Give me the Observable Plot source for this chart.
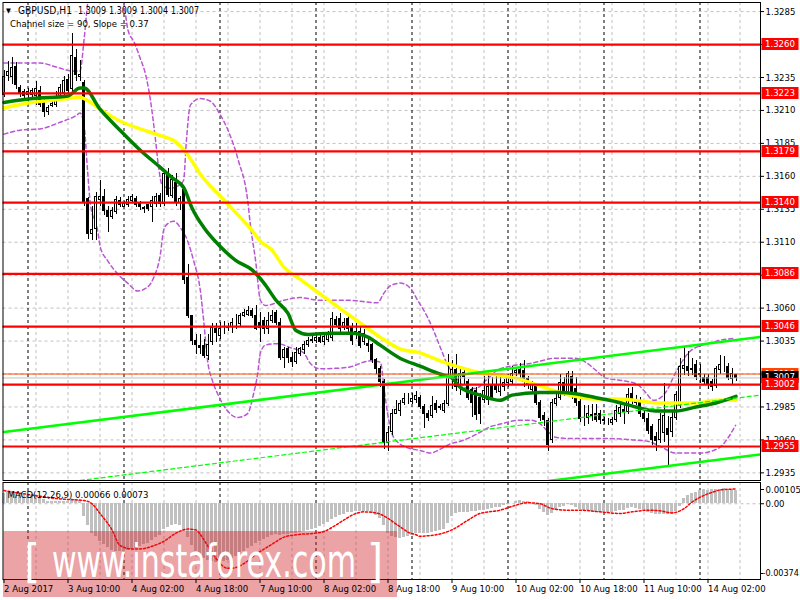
<!DOCTYPE html>
<html><head><meta charset="utf-8">
<script src="https://cdn.jsdelivr.net/npm/d3@7"></script>
<script src="https://cdn.jsdelivr.net/npm/@observablehq/plot@0.6"></script>
<style>
body{margin:0;background:#fff;}
#wrap{position:relative;width:800px;height:600px;overflow:hidden;background:#fff;}
#main{position:absolute;left:0;top:0;}
#macd{position:absolute;left:0;top:480px;}
svg text{font-family:"DejaVu Sans Condensed","DejaVu Sans",sans-serif;}
</style></head>
<body><div id="wrap"><div id="main"></div><div id="macd"></div></div>
<script>
// ---------- DATA ----------
const symbolName = "GBPUSD,H1";
const lastBarOHLC = ["1.3009", "1.3009", "1.3004", "1.3007"];
const channelTitle = "Channel size = 90, Slope = 0.37";
const macdTitle = "MACD(12,26,9) 0.00066 0.00073";
const watermarkText = "www.instaforex.com";

const opens = [1.3222,1.3236,1.3235,1.3243,1.3227,1.3224,1.3222,1.3222,1.3221,1.3225,1.3217,1.3209,1.3213,1.3214,1.3219,1.3223,1.3233,1.3226,1.3250,1.3235,
1.3231,1.3143,1.3116,1.3120,1.3142,1.3144,1.3134,1.3129,1.3133,1.3141,1.3137,1.3138,1.3141,1.3143,1.3139,1.3136,1.3138,1.3137,1.3139,1.3145,
1.3139,1.3160,1.3145,1.3155,1.3140,1.3150,1.3083,1.3054,1.3035,1.3031,1.3031,1.3024,1.3034,1.3044,1.3039,1.3045,1.3045,1.3046,1.3049,1.3048,
1.3054,1.3055,1.3058,1.3054,1.3049,1.3050,1.3044,1.3050,1.3056,1.3049,1.3022,1.3029,1.3022,1.3019,1.3025,1.3028,1.3032,1.3035,1.3035,1.3037,
1.3034,1.3036,1.3037,1.3051,1.3052,1.3045,1.3052,1.3045,1.3042,1.3042,1.3034,1.3033,1.3032,1.3021,1.3014,1.3004,1.2958,1.2966,1.2980,1.2982,
1.2988,1.2990,1.2989,1.2990,1.2992,1.2985,1.2980,1.2978,1.2987,1.2985,1.2982,1.2987,1.3006,1.3013,1.3002,1.3011,1.3004,1.2998,1.2997,1.2992,
1.2990,1.2990,1.3001,1.3002,1.2996,1.3000,1.3003,1.3004,1.3011,1.3013,1.3012,1.3006,1.2998,1.3001,1.2988,1.2978,1.2974,1.2960,1.2987,1.2992,
1.3003,1.2996,1.3008,1.2999,1.2989,1.2978,1.2977,1.2978,1.2980,1.2980,1.2975,1.2974,1.2973,1.2975,1.2980,1.2983,1.2981,1.2995,1.2990,1.2988,
1.2980,1.2976,1.2970,1.2962,1.2960,1.2965,1.2968,1.2966,1.2977,1.2986,1.3014,1.3015,1.3014,1.3017,1.3010,1.3007,1.3007,1.3004,1.3001,1.3013,
1.3015,1.3015,1.3006,1.3009];
const highs = [1.3240,1.3247,1.3250,1.3246,1.3229,1.3226,1.3227,1.3227,1.3232,1.3228,1.3219,1.3214,1.3218,1.3224,1.3230,1.3236,1.3237,1.3268,1.3256,1.3248,
1.3233,1.3144,1.3137,1.3148,1.3157,1.3150,1.3137,1.3136,1.3145,1.3144,1.3141,1.3145,1.3146,1.3145,1.3141,1.3137,1.3139,1.3145,1.3147,1.3147,
1.3164,1.3166,1.3161,1.3162,1.3145,1.3152,1.3093,1.3054,1.3040,1.3040,1.3036,1.3040,1.3048,1.3048,1.3049,1.3050,1.3048,1.3052,1.3055,1.3056,
1.3059,1.3061,1.3060,1.3062,1.3057,1.3053,1.3057,1.3058,1.3058,1.3052,1.3030,1.3030,1.3026,1.3030,1.3030,1.3035,1.3038,1.3039,1.3039,1.3039,
1.3040,1.3042,1.3057,1.3054,1.3056,1.3052,1.3054,1.3048,1.3048,1.3046,1.3044,1.3036,1.3033,1.3022,1.3016,1.3006,1.2970,1.2983,1.2990,1.2990,
1.2995,1.2995,1.2995,1.2997,1.2994,1.2987,1.2982,1.2993,1.2990,1.2987,1.2990,1.3025,1.3020,1.3025,1.3015,1.3013,1.3006,1.3000,1.3000,1.2995,
1.3008,1.3012,1.3007,1.3010,1.3008,1.3006,1.3010,1.3016,1.3014,1.3018,1.3020,1.3008,1.3004,1.3003,1.2990,1.2981,1.2976,1.2991,1.2995,1.3010,
1.3007,1.3012,1.3012,1.3007,1.2991,1.2986,1.2986,1.2987,1.2987,1.2982,1.2977,1.2976,1.2977,1.2986,1.2988,1.2986,1.2999,1.3000,1.2994,1.2992,
1.2983,1.2980,1.2972,1.2966,1.2980,1.3003,1.2978,1.2981,1.2997,1.3022,1.3031,1.3027,1.3022,1.3020,1.3017,1.3010,1.3010,1.3006,1.3016,1.3024,
1.3023,1.3018,1.3014,1.3009];
const lows = [1.3220,1.3232,1.3230,1.3226,1.3220,1.3218,1.3214,1.3219,1.3214,1.3212,1.3205,1.3206,1.3212,1.3212,1.3218,1.3219,1.3222,1.3223,1.3232,1.3232,
1.3137,1.3112,1.3111,1.3111,1.3137,1.3130,1.3117,1.3127,1.3131,1.3136,1.3136,1.3136,1.3140,1.3136,1.3134,1.3132,1.3133,1.3125,1.3136,1.3136,
1.3137,1.3144,1.3143,1.3137,1.3134,1.3078,1.3052,1.3032,1.3025,1.3025,1.3022,1.3020,1.3032,1.3034,1.3036,1.3040,1.3042,1.3041,1.3044,1.3046,
1.3053,1.3054,1.3052,1.3043,1.3034,1.3040,1.3040,1.3048,1.3047,1.3020,1.3014,1.3018,1.3015,1.3017,1.3023,1.3025,1.3030,1.3033,1.3033,1.3033,
1.3032,1.3034,1.3035,1.3045,1.3040,1.3043,1.3041,1.3032,1.3036,1.3029,1.3032,1.3026,1.3018,1.3010,1.3000,1.2953,1.2951,1.2963,1.2979,1.2978,
1.2986,1.2987,1.2987,1.2988,1.2983,1.2969,1.2974,1.2976,1.2980,1.2982,1.2980,1.2985,1.2998,1.2997,1.2994,1.3001,1.2990,1.2977,1.2975,1.2972,
1.2988,1.2986,1.2990,1.2995,1.2993,1.2997,1.3000,1.3002,1.3008,1.3005,1.3000,1.2998,1.2995,1.2986,1.2974,1.2970,1.2951,1.2957,1.2985,1.2990,
1.2993,1.2993,1.2991,1.2985,1.2973,1.2970,1.2972,1.2974,1.2973,1.2972,1.2972,1.2971,1.2971,1.2973,1.2977,1.2972,1.2979,1.2987,1.2986,1.2977,
1.2973,1.2964,1.2956,1.2951,1.2957,1.2958,1.2940,1.2962,1.2975,1.2984,1.3009,1.3008,1.3009,1.3005,1.3003,1.3001,1.2998,1.2997,1.2999,1.3010,
1.3011,1.3005,1.3002,1.3004];
const closes = [1.3235,1.3239,1.3242,1.3229,1.3223,1.3221,1.3224,1.3225,1.3226,1.3214,1.3209,1.3212,1.3215,1.3219,1.3227,1.3232,1.3225,1.3251,1.3237,1.3237,
1.3140,1.3116,1.3119,1.3144,1.3144,1.3134,1.3129,1.3134,1.3142,1.3138,1.3139,1.3142,1.3144,1.3138,1.3137,1.3135,1.3135,1.3141,1.3144,1.3139,
1.3162,1.3146,1.3157,1.3140,1.3143,1.3081,1.3054,1.3035,1.3032,1.3030,1.3024,1.3032,1.3045,1.3041,1.3044,1.3045,1.3046,1.3049,1.3049,1.3054,
1.3056,1.3058,1.3054,1.3044,1.3045,1.3044,1.3050,1.3054,1.3049,1.3022,1.3028,1.3022,1.3019,1.3026,1.3029,1.3032,1.3035,1.3036,1.3037,1.3034,
1.3038,1.3040,1.3052,1.3047,1.3044,1.3049,1.3044,1.3035,1.3040,1.3031,1.3040,1.3031,1.3021,1.3014,1.3004,1.2958,1.2965,1.2980,1.2983,1.2987,
1.2991,1.2990,1.2991,1.2993,1.2985,1.2980,1.2977,1.2986,1.2983,1.2984,1.2987,1.3007,1.3013,1.3000,1.3010,1.3008,1.2992,1.2988,1.2979,1.2980,
1.2997,1.3000,1.2992,1.2998,1.3002,1.3003,1.3007,1.3010,1.3012,1.3010,1.3004,1.3002,1.3002,1.2988,1.2977,1.2975,1.2956,1.2988,1.2991,1.3003,
1.2996,1.3010,1.2995,1.2988,1.2976,1.2978,1.2980,1.2979,1.2975,1.2975,1.2974,1.2974,1.2975,1.2982,1.2984,1.2981,1.2994,1.2990,1.2988,1.2980,
1.2976,1.2967,1.2960,1.2959,1.2975,1.2978,1.2964,1.2977,1.2994,1.3015,1.3016,1.3012,1.3013,1.3008,1.3009,1.3004,1.3002,1.3000,1.3014,1.3017,
1.3015,1.3007,1.3010,1.3007];

// moving averages: [bar, price]
const yellowMA = [[0,1.3212],[7,1.3216],[16,1.3219],[19,1.3220],[20,1.3219],[24,1.3211],[29,1.3202],[34,1.3196],[39,1.3191],[43,1.3186],[46,1.3176],[49,1.3162],[55,1.3142],[59,1.3129],[62,1.3119],[64,1.3111],[67,1.3104],[70,1.3091],[74,1.3082],[78,1.3073],[83,1.3062],[88,1.3051],[94,1.3038],[99,1.3029],[104,1.3026],[109,1.3020],[114,1.3015],[119,1.3011],[124,1.3009],[129,1.3006],[134,1.3001],[139,1.2996],[143,1.2993],[148,1.2991],[153,1.2991],[158,1.2990],[163,1.2988],[168,1.2988],[173,1.2988],[178,1.2990],[183,1.2990]];
const greenMA = [[0,1.3216],[7,1.3219],[16,1.3221],[19,1.3227],[20,1.3227],[24,1.3211],[29,1.3195],[34,1.3180],[39,1.3167],[42,1.3159],[45,1.3151],[47,1.3136],[50,1.3121],[54,1.3107],[58,1.3096],[62,1.3089],[65,1.3079],[68,1.3066],[71,1.3056],[73,1.3043],[76,1.3040],[82,1.3041],[87,1.3041],[91,1.3038],[94,1.3032],[99,1.3022],[104,1.3016],[109,1.3010],[112,1.3007],[114,1.3000],[119,1.2994],[124,1.2990],[127,1.2994],[134,1.2996],[139,1.2996],[143,1.2995],[148,1.2992],[153,1.2989],[158,1.2985],[163,1.2982],[168,1.2982],[173,1.2985],[178,1.2988],[183,1.2993]];

// envelope bands (purple dashed): [bar, price]
const bandUpper = [[0,1.3246],[4,1.3246],[9,1.3246],[13,1.3243],[17,1.3240],[19,1.3240],[20,1.3263],[21,1.3293],[24,1.3320],[28,1.3305],[30,1.3290],[31,1.3271],[32.5,1.3262],[34,1.3250],[35.5,1.3236],[36.6,1.3218],[37.9,1.3187],[38.6,1.3168],[39.6,1.3153],[41.6,1.3151],[43.6,1.3153],[44.9,1.3157],[45.6,1.3187],[46.6,1.3214],[49,1.3219],[51.6,1.3217],[54,1.3207],[56,1.3195],[58.6,1.3172],[60.9,1.3142],[61.6,1.3123],[62.9,1.3096],[64.1,1.3066],[65.4,1.3062],[70,1.3066],[74,1.3068],[79,1.3066],[86,1.3066],[93.4,1.3064],[94.9,1.3071],[96.6,1.3077],[99.1,1.3079],[101.6,1.3075],[103.4,1.3066],[105.9,1.3053],[107.4,1.3043],[109.1,1.3030],[110.9,1.3017],[112.4,1.3010],[114.1,1.3003],[115.9,1.2999],[117.9,1.2999],[120.4,1.3005],[123.4,1.3013],[126.6,1.3016],[131.6,1.3018],[137.9,1.3022],[142.9,1.3022],[145.4,1.3019],[147.9,1.3013],[150.4,1.3007],[154.6,1.3005],[158.4,1.3002],[160.4,1.2996],[162.4,1.2990],[165.4,1.2996],[167.9,1.3011],[171.1,1.3026],[174.6,1.3032],[177.1,1.3034],[179.6,1.3036],[182.9,1.3037]];
const bandLower = [[0,1.3192],[4,1.3195],[9,1.3196],[14,1.3201],[18,1.3206],[19,1.3208],[20,1.3199],[20.9,1.3164],[21.6,1.3139],[23.4,1.3119],[24.1,1.3106],[25.9,1.3096],[28.4,1.3086],[30.9,1.3079],[33.4,1.3073],[35.9,1.3076],[37.4,1.3083],[39.1,1.3101],[39.9,1.3119],[40.9,1.3124],[42.4,1.3126],[44.1,1.3121],[45.9,1.3111],[47.4,1.3096],[49.1,1.3073],[49.9,1.3051],[50.9,1.3020],[52.1,1.3005],[53.4,1.2995],[55.9,1.2982],[58.4,1.2977],[60.9,1.2980],[62.4,1.2995],[63.4,1.3010],[64.1,1.3026],[65.4,1.3032],[68.4,1.3033],[71.6,1.3030],[74.9,1.3026],[76.6,1.3018],[79.1,1.3014],[85.9,1.3015],[91.6,1.3020],[94.1,1.3019],[95.1,1.2997],[95.9,1.2980],[97.4,1.2962],[100.9,1.2954],[104.1,1.2952],[106.6,1.2950],[109.1,1.2953],[111.6,1.2957],[114.1,1.2959],[116.6,1.2962],[119.1,1.2966],[121.6,1.2970],[124.1,1.2972],[126.6,1.2974],[129.1,1.2975],[131.6,1.2975],[134.1,1.2972],[136.1,1.2966],[137.9,1.2962],[141.6,1.2961],[146.6,1.2961],[151.6,1.2961],[157.1,1.2960],[160.9,1.2959],[164.1,1.2955],[167.9,1.2950],[171.6,1.2950],[174.1,1.2950],[177.4,1.2952],[179.6,1.2956],[181.1,1.2962],[182.9,1.2971]];

// regression channel (bright green): [bar, price]
const channelUpper = [[0,1.2966],[189,1.3038]];
const channelMiddle = [[0,1.2922],[189,1.2994]];
const channelLower = [[0,1.2877],[189,1.2949]];

const levels = [1.3260,1.3223,1.3179,1.3140,1.3086,1.3046,1.3002,1.2955];
const askPrice = 1.3010;
const bidPrice = 1.3007;
const priceTicks = [1.2935,1.2960,1.2985,1.3010,1.3035,1.3060,1.3085,1.3110,1.3135,1.3160,1.3185,1.3210,1.3235,1.3260,1.3285];

const xTickBars = [0,16,32,48,64,80,96,112,128,144,160,176];
const xTickLabels = ["2 Aug 2017","3 Aug 10:00","4 Aug 02:00","4 Aug 18:00","7 Aug 10:00","8 Aug 02:00","8 Aug 18:00","9 Aug 10:00","10 Aug 02:00","10 Aug 18:00","11 Aug 10:00","14 Aug 02:00"];
const daySepBars = [6,30,54,78,102,126,150,174];
const gridBars = d3.range(8, 189, 8);

// MACD main (histogram) in units of 1e-5
const macdMainE5 = [52,55,56,55,48,45,42,39,35,29, 19,13,10,10,11,13,13,19,19,16,
-65,-105,-145,-161,-185,-202,-218,-229,-234,-235, -234,-231,-226,-219,-213,-203,-194,-181,-169,-158,
-129,-116,-105,-100,-105,-137,-169,-206,-234,-255, -271,-282,-287,-290,-290,-287,-281,-271,-261,-250,
-235,-223,-210,-197,-187,-177,-169,-158,-152,-155, -153,-150,-148,-145,-142,-139,-134,-129,-121,-113,
-103,-94,-77,-68,-58,-52,-44,-42,-39,-39, -37,-40,-48,-58,-73,-105,-145,-161,-169,-171,
-169,-161,-155,-148,-145,-145,-145,-140,-137,-132, -126,-97,-65,-48,-45,-42,-42,-40,-39,-35,
-32,-27,-23,-19,-16,-11,-5,3,11,15, 13,11,3,-10,-29,-45,-58,-48,-32,-19,
-13,-6,-10,-16,-29,-35,-35,-39,-42,-44, -45,-45,-45,-40,-35,-32,-24,-19,-21,-27,
-34,-42,-50,-53,-52,-53,-55,-52,-40,-13, 24,40,52,58,65,68,65,68,69,71,
73,69,68,66];
// MACD signal (red dotted) [bar, value 1e-5]
const macdSignalE5 = [[0,65],[8,40],[14,24],[20,16],[22,0],[24,-48],[27,-129],[29,-206],[32,-223],[34,-223],[37,-210],[40,-185],[43,-145],[46,-125],[48,-129],[49,-150],[51,-210],[53,-270],[56,-319],[58,-315],[60,-295],[63,-250],[67,-200],[70,-165],[73,-153],[78,-145],[80,-137],[83,-105],[85,-80],[88,-48],[90,-40],[93,-45],[96,-72],[98,-100],[99,-113],[101,-140],[103,-153],[104,-161],[106,-158],[108,-153],[112,-129],[116,-81],[119,-48],[124,-32],[127,-13],[131,5],[134,0],[137,-24],[141,-32],[144,-32],[149,-40],[154,-48],[157,-40],[161,-32],[164,-35],[167,-45],[170,-24],[172,8],[174,32],[177,56],[179,68],[183,73]];
const macdTicks = [0.00105, 0, -0.00374];

// ---------- BUILD ----------
const FONT = '"DejaVu Sans Condensed","DejaVu Sans",sans-serif';
const GRID = "#c0c0c0";
const bars = opens.map((o, i) => ({i, o, h: highs[i], l: lows[i], c: closes[i]}));
const toRows = a => a.map(([i, p]) => ({i, p}));
const xDomain = [-0.25, 189.125];
const fmt4 = d3.format(".4f");

function priceBoxes(values, fill, color) {
  return (index, scales, ch, dim) => {
    const g = d3.create("svg:g").attr("font-size", 9.5).attr("font-family", FONT).attr("text-anchor", "start");
    const x0 = dim.width - dim.marginRight + 1.5;
    for (const v of values) {
      const y = Math.round(scales.y(v));
      g.append("rect").attr("x", x0).attr("y", y - 6).attr("width", 37).attr("height", 12).attr("fill", fill);
      g.append("text").attr("x", x0 + 3.5).attr("y", y).attr("dy", "0.36em").attr("fill", color).text(fmt4(v));
    }
    return g.node();
  };
}

const header = () => {
  const g = d3.create("svg:g").attr("font-family", FONT).attr("text-anchor", "start").attr("fill", "#000");
  g.append("text").attr("x", 6).attr("y", 10.5).attr("dy", "0.35em").attr("font-size", 7).text("\u25BC");
  g.append("text").attr("x", 18).attr("y", 10.5).attr("dy", "0.35em").attr("font-size", 11)
    .attr("textLength", 54).attr("lengthAdjust", "spacingAndGlyphs").text(symbolName);
  lastBarOHLC.forEach((s, k) => {
    g.append("text").attr("x", 78 + k * 31).attr("y", 10.5).attr("dy", "0.35em").attr("font-size", 11)
      .attr("textLength", 28).attr("lengthAdjust", "spacingAndGlyphs").text(s);
  });
  g.append("text").attr("x", 10).attr("y", 23.5).attr("dy", "0.35em").attr("font-size", 9.5).text(channelTitle);
  return g.node();
};

const main = Plot.plot({
  width: 800, height: 482,
  marginLeft: 2.5, marginRight: 40, marginTop: 2, marginBottom: 2,
  style: {background: "transparent", fontFamily: FONT, fontSize: "9.5px", color: "#000"},
  x: {type: "linear", domain: xDomain, axis: null},
  y: {domain: [1.29292, 1.32919], axis: null},
  marks: [
    Plot.ruleY(priceTicks, {stroke: GRID, strokeDasharray: "3,3"}),
    Plot.ruleX(gridBars, {stroke: GRID, strokeDasharray: "3,3"}),
    Plot.ruleX(daySepBars, {stroke: "#000", strokeDasharray: "3,3"}),
    Plot.line(toRows(bandUpper), {x: "i", y: "p", stroke: "#ba55d3", strokeDasharray: "4,3", curve: "monotone-x", clip: true}),
    Plot.line(toRows(bandLower), {x: "i", y: "p", stroke: "#ba55d3", strokeDasharray: "4,3", curve: "monotone-x", clip: true}),
    Plot.ruleX(bars, {x: "i", y1: "l", y2: "h", stroke: "#000", shapeRendering: "crispEdges"}),
    Plot.rect(bars, {x1: d => d.i - 0.25, x2: d => d.i + 0.25, y1: "o", y2: "c",
      fill: d => d.c >= d.o ? "#fff" : "#000", stroke: "#000", strokeWidth: 1, shapeRendering: "crispEdges"}),
    Plot.line(toRows(yellowMA), {x: "i", y: "p", stroke: "#ffff00", strokeWidth: 3.5, curve: "monotone-x"}),
    Plot.line(toRows(greenMA), {x: "i", y: "p", stroke: "#008000", strokeWidth: 3.5, curve: "monotone-x"}),
    Plot.line(toRows(channelUpper), {x: "i", y: "p", stroke: "#00ff00", strokeWidth: 2.5, clip: true}),
    Plot.line(toRows(channelMiddle), {x: "i", y: "p", stroke: "#00ff00", strokeWidth: 1.2, strokeDasharray: "4,3", clip: true}),
    Plot.line(toRows(channelLower), {x: "i", y: "p", stroke: "#00ff00", strokeWidth: 2.5, clip: true}),
    Plot.ruleY([askPrice], {stroke: "#ff4500"}),
    Plot.ruleY([bidPrice], {stroke: "#c0c0c0"}),
    Plot.ruleY(levels, {stroke: "#ff0000", strokeWidth: 2.2}),
    Plot.frame({stroke: "#000"}),
    Plot.axisY(priceTicks, {anchor: "right", label: null, tickSize: 3, tickPadding: 2, tickFormat: fmt4, fontSize: 9.5}),
    priceBoxes([askPrice], "#ff4500", "#fff"),
    priceBoxes([bidPrice], "#000", "#fff"),
    priceBoxes(levels, "#ff0000", "#fff"),
    header
  ]
});
document.getElementById("main").appendChild(main);

const macdRows = macdMainE5.map((v, i) => ({i, v: v * 1e-5}));
const signalRows = macdSignalE5.map(([i, v]) => ({i, v: v * 1e-5}));
const labelOf = new Map(xTickBars.map((b, k) => [b, xTickLabels[k]]));

const watermark = () => {
  const g = d3.create("svg:g").attr("text-anchor", "start");
  g.append("rect").attr("x", 3).attr("y", 51).attr("width", 394).attr("height", 66)
    .attr("fill", "rgb(205,25,32)").attr("fill-opacity", 0.4);
  const t = g.append("g").attr("fill", "#fff").attr("font-family", '"Open Sans",Roboto,sans-serif')
    .attr("font-weight", 300).attr("font-size", 46);
  t.append("text").attr("x", 24).attr("y", 97).text("[");
  t.append("text").attr("x", 52).attr("y", 97).attr("textLength", 304).attr("lengthAdjust", "spacingAndGlyphs").text(watermarkText);
  t.append("text").attr("x", 367).attr("y", 97).text("]");
  return g.node();
};

const macd = Plot.plot({
  width: 800, height: 120,
  marginLeft: 2.5, marginRight: 40, marginTop: 2, marginBottom: 21,
  style: {background: "transparent", fontFamily: FONT, fontSize: "9.5px", color: "#000"},
  x: {type: "linear", domain: xDomain, axis: null},
  y: {domain: [-0.00374, 0.00105], axis: null},
  marks: [
    Plot.ruleX(gridBars, {stroke: GRID, strokeDasharray: "3,3"}),
    Plot.ruleX(daySepBars, {stroke: "#000", strokeDasharray: "3,3"}),
    Plot.rect(macdRows, {x1: d => d.i - 0.34, x2: d => d.i + 0.34, y1: 0, y2: "v", fill: "#c0c0c0", shapeRendering: "crispEdges"}),
    Plot.ruleY([0], {stroke: GRID, strokeDasharray: "3,3"}),
    Plot.line(signalRows, {x: "i", y: "v", stroke: "#ff0000", strokeDasharray: "2,2", curve: "monotone-x"}),
    Plot.frame({stroke: "#000"}),
    Plot.text([macdTitle], {frameAnchor: "top-left", dx: 4.5, dy: 8.7, fontSize: 9.5, textAnchor: "start"}),
    watermark,
    Plot.axisX(xTickBars, {anchor: "bottom", label: null, tickSize: 4, tickPadding: 2, tickFormat: b => labelOf.get(b), textAnchor: "start", fontSize: 9.5}),
    Plot.axisY([macdTicks[0]], {anchor: "right", label: null, tickSize: 3, tickPadding: 2, dy: 7, tickFormat: d => d.toFixed(5), fontSize: 9.5}),
    Plot.axisY([macdTicks[1]], {anchor: "right", label: null, tickSize: 3, tickPadding: 2, tickFormat: d => "0.00", fontSize: 9.5}),
    Plot.axisY([macdTicks[2]], {anchor: "right", label: null, tickSize: 2, tickPadding: 0, dy: -6, tickFormat: d => d.toFixed(5), fontSize: 9})
  ]
});
document.getElementById("macd").appendChild(macd);
</script></body></html>
